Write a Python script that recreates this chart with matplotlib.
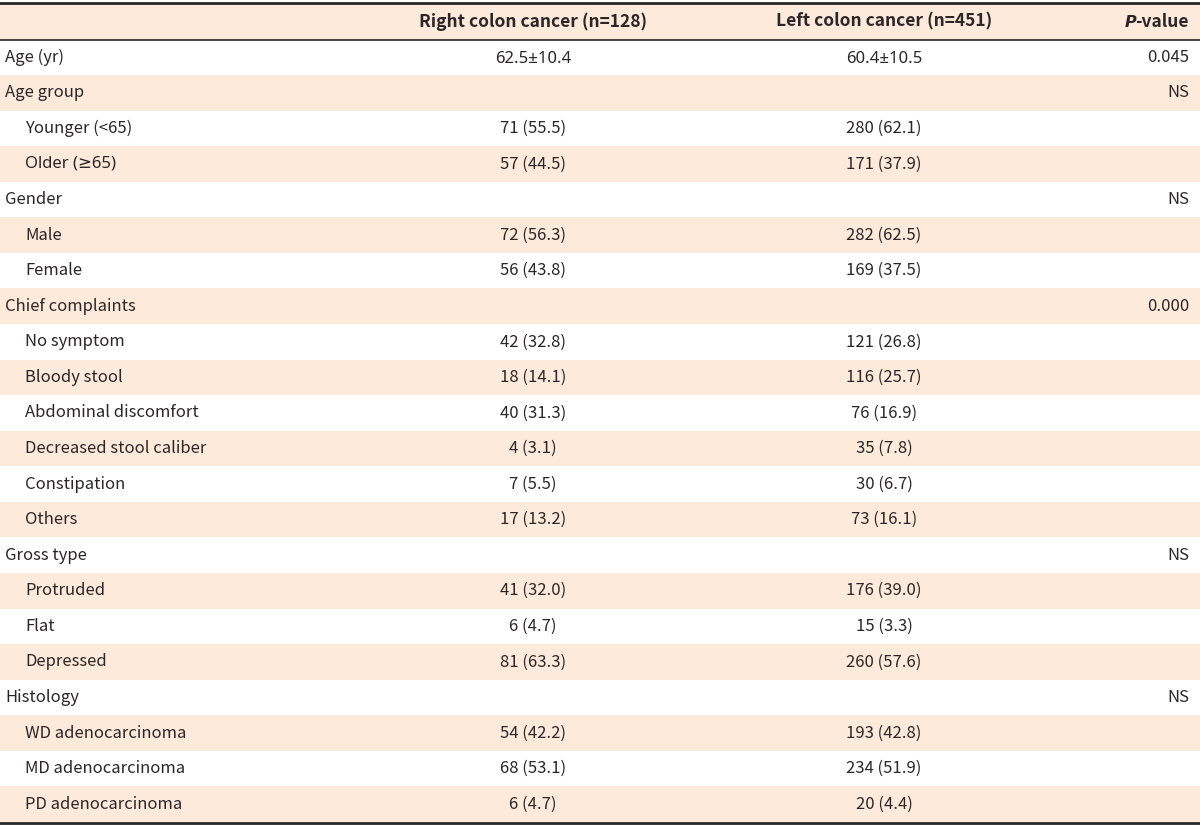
import matplotlib.pyplot as plt
from matplotlib.patches import Rectangle

plt.rcParams['font.family'] = ['Noto Sans CJK KR', 'DejaVu Sans']

# table content
headers = ["Right colon cancer (n=128)", "Left colon cancer (n=451)"]
labels = ["Age (yr)", "Age group", "Younger (<65)", "Older (\u226565)", "Gender", "Male", "Female",
          "Chief complaints", "No symptom", "Bloody stool", "Abdominal discomfort",
          "Decreased stool caliber", "Constipation", "Others", "Gross type", "Protruded",
          "Flat", "Depressed", "Histology", "WD adenocarcinoma", "MD adenocarcinoma",
          "PD adenocarcinoma"]
indented = [False, False, True, True, False, True, True, False, True, True, True, True, True,
            True, False, True, True, True, False, True, True, True]
right_colon = ["62.5\u00b110.4", "", "71 (55.5)", "57 (44.5)", "", "72 (56.3)", "56 (43.8)", "",
               "42 (32.8)", "18 (14.1)", "40 (31.3)", "4 (3.1)", "7 (5.5)", "17 (13.2)", "",
               "41 (32.0)", "6 (4.7)", "81 (63.3)", "", "54 (42.2)", "68 (53.1)", "6 (4.7)"]
left_colon = ["60.4\u00b110.5", "", "280 (62.1)", "171 (37.9)", "", "282 (62.5)", "169 (37.5)", "",
              "121 (26.8)", "116 (25.7)", "76 (16.9)", "35 (7.8)", "30 (6.7)", "73 (16.1)", "",
              "176 (39.0)", "15 (3.3)", "260 (57.6)", "", "193 (42.8)", "234 (51.9)", "20 (4.4)"]
p_values = ["0.045", "NS", "", "", "NS", "", "", "0.000", "", "", "", "", "", "", "NS", "", "",
            "", "NS", "", "", ""]

shade = "#fdeadb"
ink = "#2b2728"
W, H = 1200, 825
top, head_bot = 4, 39.5
row_h = (822 - head_bot) / len(labels)


def cell_font(s):
    # the CJK font draws these signs full-width
    if "\u00b1" in s or "\u2265" in s:
        return ["Noto Sans", "DejaVu Sans"]
    return ["Noto Sans CJK KR", "DejaVu Sans"]


fig = plt.figure(figsize=(12, 8.25), dpi=100)
ax = fig.add_axes([0, 0, 1, 1])
ax.set_xlim(0, W)
ax.set_ylim(H, 0)
ax.axis("off")

# header band
hy = (top + head_bot) / 2
ax.add_patch(Rectangle((0, top), W, head_bot - top, color=shade, lw=0))
ax.text(533, hy, headers[0], ha="center", va="center", fontsize=12.5, fontweight="bold", color=ink)
ax.text(884, hy, headers[1], ha="center", va="center", fontsize=12.5, fontweight="bold", color=ink)
pv = ax.text(1189, hy, "-value", ha="right", va="center", fontsize=12.5, fontweight="bold", color=ink)
fig.canvas.draw()
bb = pv.get_window_extent().transformed(ax.transData.inverted())
ax.text(min(bb.x0, bb.x1) + 1, hy + 0.5, "P", ha="right", va="center", fontsize=11.5,
        fontweight="bold", fontstyle="oblique", color=ink, family="DejaVu Sans")

for i, lab in enumerate(labels):
    y0 = head_bot + i * row_h
    yc = y0 + row_h / 2
    if i % 2 == 1:
        ax.add_patch(Rectangle((0, y0), W, row_h, color=shade, lw=0))
    x = 25 if indented[i] else 5
    ax.text(x, yc, lab, ha="left", va="center", fontsize=12, color=ink, family=cell_font(lab))
    for xc, s in ((533, right_colon[i]), (884, left_colon[i])):
        dy = 1.5 if "\u00b1" in s else 0
        ax.text(xc, yc + dy, s, ha="center", va="center", fontsize=12, color=ink,
                family=cell_font(s))
    ax.text(1189, yc, p_values[i], ha="right", va="center", fontsize=12, color=ink)

ax.axhline(top - 1, color=ink, lw=2)
ax.axhline(head_bot, color=ink, lw=1.2)
ax.axhline(822.5, color=ink, lw=2)

fig.savefig("out.png", dpi=100)
